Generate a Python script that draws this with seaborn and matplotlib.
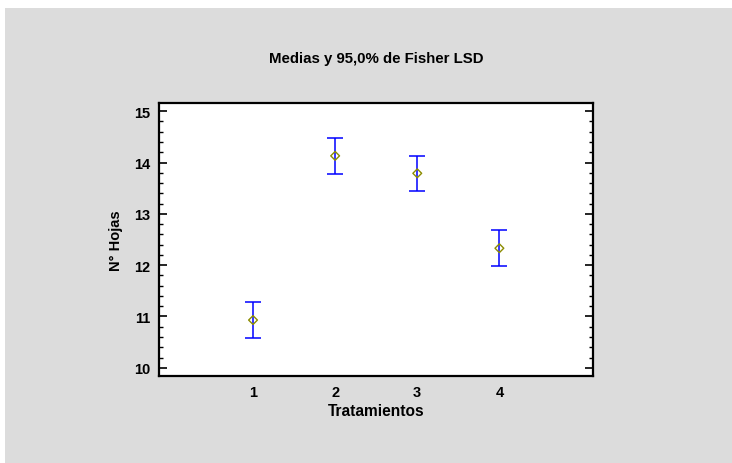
import matplotlib
matplotlib.use("Agg")
import matplotlib.pyplot as plt
import seaborn as sns
import pandas as pd
import numpy as np
from matplotlib.ticker import MultipleLocator
from matplotlib.patches import Rectangle

sns.set_theme(style="white")
plt.rcParams['font.family'] = ['Liberation Sans', 'DejaVu Sans']
plt.rcParams['text.color'] = 'black'
plt.rcParams['axes.labelcolor'] = 'black'
plt.rcParams['xtick.color'] = 'black'
plt.rcParams['ytick.color'] = 'black'

tratamientos = [1, 2, 3, 4]
medias = [10.93, 14.13, 13.79, 12.33]
inferior = [10.59, 13.78, 13.44, 11.98]
superior = [11.28, 14.47, 14.13, 12.68]

df = pd.DataFrame({"Tratamientos": tratamientos, "Media": medias,
                   "Inf": inferior, "Sup": superior})

fig = plt.figure(figsize=(7.32, 4.64), dpi=100, facecolor="#dcdcdc")
fig.patches.append(Rectangle((0, 1 - 9/464), 1, 1, transform=fig.transFigure,
                             facecolor="white", edgecolor="none", zorder=-10))
fig.patches.append(Rectangle((0, 0), 5/732, 1, transform=fig.transFigure,
                             facecolor="white", edgecolor="none", zorder=-10))
ax = fig.add_axes([159/732, 1 - 377/464, (593-159)/732, (377-104)/464])
ax.set_facecolor("white")

yerr = np.array([df["Media"] - df["Inf"], df["Sup"] - df["Media"]])
ax.errorbar(df["Tratamientos"], df["Media"], yerr=yerr, fmt="none",
            ecolor="#0000ff", elinewidth=1.1, capsize=5.8, capthick=1.1, zorder=2)
sns.scatterplot(data=df, x="Tratamientos", y="Media", ax=ax, marker="D", s=20,
                facecolor="none", edgecolor="#8c8c00", linewidth=1.0, zorder=3)

ax.set_xlim(-0.145, 5.14)
ax.set_ylim(9.84, 15.16)
ax.set_xticks(tratamientos)
ax.set_xticklabels([str(t) for t in tratamientos])
ax.set_yticks([10, 11, 12, 13, 14, 15])
ax.yaxis.set_minor_locator(MultipleLocator(0.2))

ax.tick_params(axis="y", which="major", direction="in", length=6, width=1.2,
               left=True, right=True, labelsize=10.5, pad=6)
ax.tick_params(axis="y", which="minor", direction="in", length=3, width=1.0,
               left=True, right=True)
ax.tick_params(axis="x", which="both", bottom=False, top=False, labelsize=10.5, pad=0.5)
for lbl in ax.get_xticklabels() + ax.get_yticklabels():
    lbl.set_fontweight("bold")

for s in ax.spines.values():
    s.set_visible(True)
    s.set_color("black")
    s.set_linewidth(1.6)

ax.set_xlabel("Tratamientos", fontsize=11.2, fontweight="bold", labelpad=3)
ax.set_ylabel("N° Hojas", fontsize=10.5, fontweight="bold", labelpad=8)
fig.text(376/732, 1 - 59/464, "Medias y 95,0% de Fisher LSD", ha="center", va="center",
         fontsize=10.8, fontweight="bold")

fig.savefig("out.png", dpi=100, facecolor=fig.get_facecolor())
